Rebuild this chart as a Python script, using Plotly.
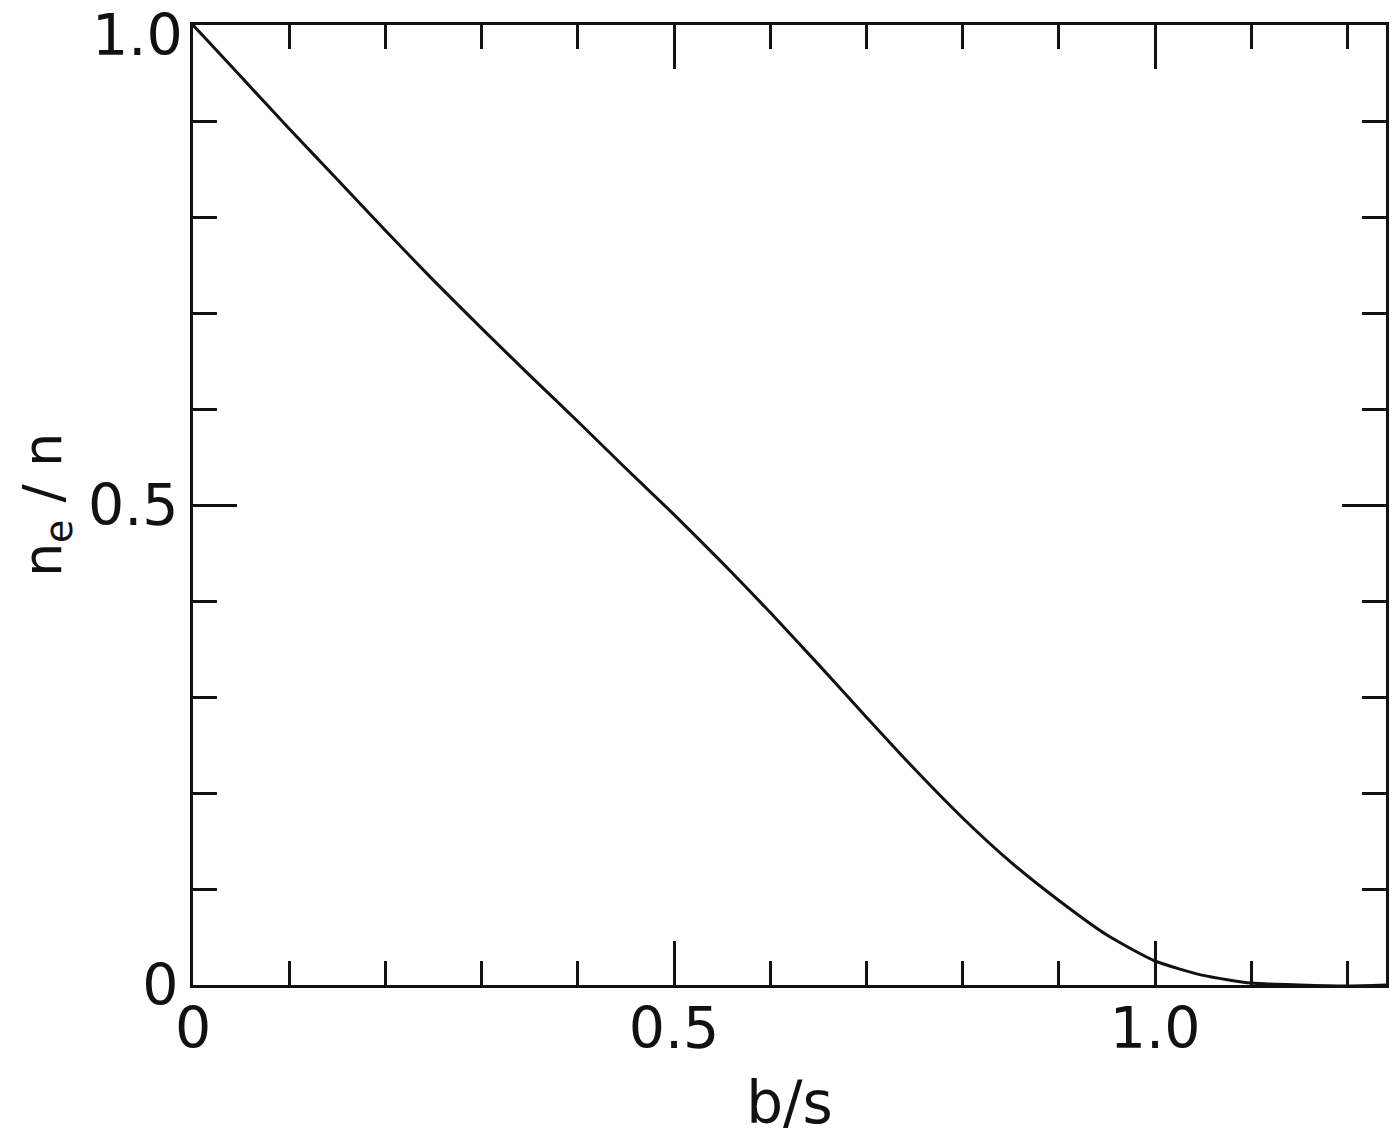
import plotly.graph_objects as go

# Data
b_over_s = [0.0, 0.05, 0.1, 0.15, 0.2, 0.25, 0.3, 0.35, 0.4, 0.45, 0.5, 0.55, 0.6, 0.65,
            0.7, 0.75, 0.8, 0.85, 0.9, 0.95, 1.0, 1.05, 1.1, 1.15, 1.2, 1.24]
ne_over_n = [1.0, 0.946, 0.892, 0.839, 0.786, 0.734, 0.684, 0.635, 0.587, 0.538, 0.49, 0.44,
             0.388, 0.334, 0.279, 0.225, 0.174, 0.128, 0.088, 0.052, 0.025, 0.010, 0.002,
             0.0, -0.001, 0.0]

x_ticks = [0, 0.5, 1.0]
x_ticklabels = ["0", "0.5", "1.0"]
y_ticks = [0, 0.5, 1.0]
y_ticklabels = ["0", "0.5", "1.0"]

X_RANGE = [0, 1.24]
Y_RANGE = [0, 1.0]

FONT = "DejaVu Sans"
INK = "#111111"
TICK_FONT = dict(size=57, family=FONT, color=INK)

fig = go.Figure()
fig.add_trace(go.Scatter(x=b_over_s, y=ne_over_n, mode="lines",
                         line=dict(color=INK, width=3, shape="spline", smoothing=0.6),
                         showlegend=False, hoverinfo="skip", cliponaxis=False))
# invisible trace on the mirrored axes so they render
fig.add_trace(go.Scatter(x=X_RANGE, y=Y_RANGE, xaxis="x2", yaxis="y2", mode="lines",
                         line=dict(width=0), showlegend=False, hoverinfo="skip"))

common_minor = dict(dtick=0.1, ticklen=24, tickwidth=3, tickcolor=INK, ticks="inside")

# the top y label sits a little below the frame corner in the reference, so draw it as an annotation
y_axis_text = y_ticklabels[:-1] + [""]
fig.add_annotation(x=0, y=y_ticks[-1], xref="x", yref="y", text=y_ticklabels[-1],
                   showarrow=False, xanchor="right", yanchor="middle",
                   xshift=-9, yshift=-10, borderpad=0, font=TICK_FONT)

fig.update_layout(
    width=1400, height=1138,
    paper_bgcolor="white", plot_bgcolor="white",
    margin=dict(l=193, r=14, t=25, b=153),
    font=dict(family=FONT, color=INK),
    xaxis=dict(range=X_RANGE, tickvals=x_ticks, ticktext=x_ticklabels,
               ticks="inside", ticklen=44, tickwidth=3, tickcolor=INK,
               minor=common_minor, ticklabeloverflow="allow", automargin=False,
               ticklabelstandoff=-8,
               showline=True, linewidth=3, linecolor=INK, showgrid=False, zeroline=False,
               tickfont=TICK_FONT,
               title=dict(text="b/s", font=dict(size=58, family=FONT, color=INK), standoff=22)),
    yaxis=dict(range=Y_RANGE, tickvals=y_ticks, ticktext=y_axis_text,
               ticks="inside", ticklen=44, tickwidth=3, tickcolor=INK,
               minor=common_minor, ticklabeloverflow="allow", automargin=False,
               showline=True, linewidth=3, linecolor=INK, showgrid=False, zeroline=False,
               tickfont=TICK_FONT,
               title=dict(text="n<sub>e</sub> / n", font=dict(size=54, family=FONT, color=INK), standoff=10)),
    xaxis2=dict(range=X_RANGE, overlaying="x", side="top", anchor="y", automargin=False,
                tickvals=x_ticks, showticklabels=False,
                ticks="inside", ticklen=44, tickwidth=3, tickcolor=INK,
                minor=common_minor,
                showline=True, linewidth=3, linecolor=INK, showgrid=False, zeroline=False),
    yaxis2=dict(range=Y_RANGE, overlaying="y", side="right", anchor="x", automargin=False,
                tickvals=y_ticks, showticklabels=False,
                ticks="inside", ticklen=44, tickwidth=3, tickcolor=INK,
                minor=common_minor,
                showline=True, linewidth=3, linecolor=INK, showgrid=False, zeroline=False),
)

fig.write_html("out.html", config={"displayModeBar": False},
               post_script="document.body.style.margin='0';document.body.style.overflow='hidden';")
